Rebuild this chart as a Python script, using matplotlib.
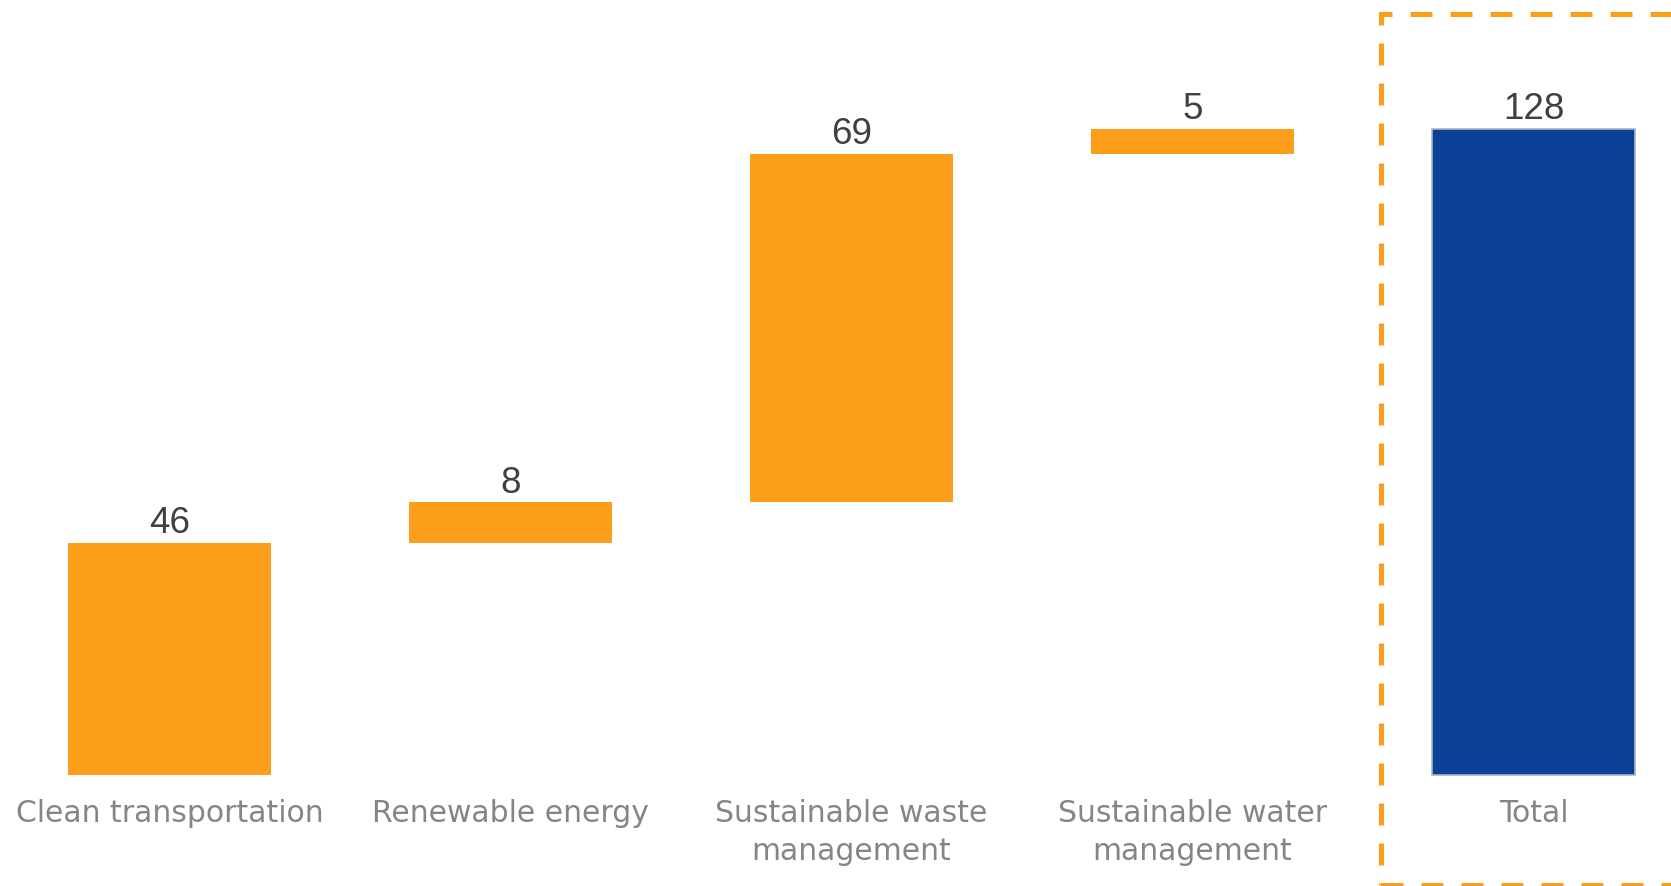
import matplotlib
matplotlib.use('Agg')
import numpy as np
import matplotlib.pyplot as plt
from matplotlib.patches import Rectangle

categories = ['Clean transportation', 'Renewable energy', 'Sustainable waste\nmanagement',
              'Sustainable water\nmanagement', 'Total']
values = [46, 8, 69, 5]
total = sum(values)

orange = '#FD9E1B'
blue = '#0B4297'

fig = plt.figure(figsize=(16.71, 8.87), dpi=100)
ax = fig.add_axes([0., 0., 1., 1.])

# waterfall steps
bottoms = np.concatenate([[0], np.cumsum(values)[:-1]])
x = np.arange(len(values))
ax.bar(x, values, bottom=bottoms, width=0.595, color=orange, edgecolor='none')
ax.bar(len(values), total, width=0.595, color=blue, edgecolor='#A9B4C8', linewidth=1.2)

for i, (b, v) in enumerate(zip(bottoms, values)):
    ax.text(i, b + v + 0.5, str(v), ha='center', va='bottom', fontsize=26.5,
            color='#404040', family='Liberation Sans')
ax.text(len(values), total + 0.5, str(total), ha='center', va='bottom', fontsize=26.5,
        color='#404040', family='Liberation Sans')

for i, lab in enumerate(categories):
    ax.text(i, -4.6, lab, ha='center', va='top', fontsize=21.5, color='#858585',
            linespacing=1.4)

# dashed box round the total
box = Rectangle((3.553, -21.8), 2.0, 172.5, fill=False, edgecolor=orange,
                linewidth=3.6, linestyle=(0, (4.4, 3.6)), clip_on=False)
ax.add_patch(box)

ax.set_xlim(-0.497, 4.403)
ax.set_ylim(-22.0, 153.7)
ax.axis('off')

fig.savefig('out.png', dpi=100)
